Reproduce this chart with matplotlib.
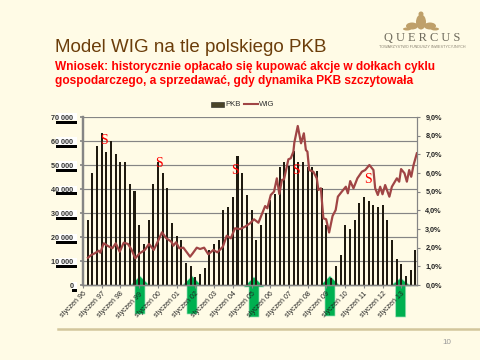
import matplotlib
matplotlib.use("Agg")
import matplotlib.pyplot as plt
from matplotlib.patches import Polygon, Rectangle, Ellipse
from matplotlib.lines import Line2D

plt.rcParams["font.family"] = ["Liberation Sans", "DejaVu Sans"]

BG = "#FFFBE6"
GRID = "#858585"
BAR = "#1F1A10"
LINE = "#A04545"
GREEN = "#00B050"
BROWN = "#6B3D0A"

# quarterly GDP growth, % (first bar is Q2 1996)
pkb = [3.5, 6.0, 7.44, 8.12, 7.12, 7.7, 7.0, 6.6, 6.6, 5.4, 5.03, 3.2, 2.2, 3.5, 5.4, 6.6, 6.0, 5.2, 3.3, 2.6,
       2.4, 1.17, 1.0, 0.45, 0.6, 0.9, 1.9, 2.2, 2.4, 4.0, 4.2, 4.7, 6.9, 6.0, 4.8, 4.0, 2.4, 3.2, 3.84, 4.55,
       4.9, 6.3, 6.6, 6.37, 7.2, 6.6, 6.6, 6.3, 6.3, 6.1, 5.2, 3.2, 0.4, 1.0, 1.6, 3.2, 3.0, 3.5, 4.4, 4.7,
       4.5, 4.27, 4.2, 4.27, 3.5, 2.4, 1.4, 1.1, 0.5, 0.8, 1.9]
pkb_months = [3 * (i + 1) for i in range(len(pkb))]

# WIG index, months since January 1996
wig_months = [3.2, 5.3, 7.5, 10.1, 11.1, 13.3, 16, 18.8, 21, 23.5, 26.1, 28.8, 31, 33.5, 36.3, 39.6, 42.3, 45.3,
              47.4, 50.6, 53.4, 56.6, 57.9, 59.6, 61.7, 64.3, 68.6, 70.3, 72.9, 75, 77.6, 80.3, 83.5, 86.1, 89.6,
              92.1, 94.7, 97.4, 100.6, 103.8, 107, 109.6, 112.4, 116.7, 118.1, 120.3, 122.4, 124.2, 125.8, 127.4,
              128.8, 131.6, 133.1, 134.8, 135.4, 137.6, 139.7, 141.5, 142.8, 143.8, 144.9, 147.6, 149.8, 150.8,
              152.4, 154, 155.8, 157.7, 159.9, 161.9, 163.3, 165.8, 168.4, 169.7, 171.2, 173.3, 175.8, 178.7,
              180.8, 183.5, 186.1, 187.2, 188.9, 190.4, 191.9, 193.6, 196.3, 197.9, 201.1, 202.6, 203.8, 206,
              207.5, 209, 210.3, 211.8, 213.9]
wig = [11375, 12500, 13200, 14300, 13450, 17375, 16250, 15300, 17375, 13875, 17625, 17100, 14875, 11125, 13200,
       14600, 17100, 14600, 17375, 21950, 19450, 18050, 16375, 17800, 15300, 15550, 11800, 13200, 15550, 15000,
       15550, 12800, 14600, 13600, 15950, 20550, 19450, 23625, 23300, 24300, 25700, 27375, 25950, 32900, 31950,
       37500, 38900, 44450, 37900, 43750, 44050, 52375, 52800, 55550, 59300, 66250, 59050, 63200, 56250, 55550,
       47900, 47200, 44450, 39600, 40300, 27800, 27375, 21875, 28750, 31250, 36800, 38875, 40950, 38200, 43300,
       40300, 44450, 47200, 47900, 50000, 47900, 40300, 37500, 40950, 37800, 41650, 36800, 40950, 44450, 43050,
       48300, 46550, 43050, 47900, 45100, 50000, 54875]

year_labels = ["styczeń %02d" % (y % 100) for y in range(1996, 2014)]
left_ticks = [0, 10000, 20000, 30000, 40000, 50000, 60000, 70000]
left_labels = ["0", "10 000", "20 000", "30 000", "40 000", "50 000", "60 000", "70 000"]
right_ticks = [0, 1, 2, 3, 4, 5, 6, 7, 8, 9]
right_labels = ["%d,0%%" % v for v in right_ticks]

# sell signals
s_months = [13.5, 48.6, 97.4, 136.5, 182.7]
s_values = [60100, 50600, 47600, 47600, 44100]

# buy arrows, pixels: centre x, tip y, head base y, half head width, bottom y
arrows = [(140, 276, 285, 9, 314), (192, 276, 285, 9, 314), (254, 277, 287, 10, 317),
          (330, 276, 286, 10, 316), (400.7, 278, 286, 10, 317)]

W, H = 480, 360
fig = plt.figure(figsize=(W / 100, H / 100), dpi=100, facecolor=BG)


def px(x, y):
    return x / W, 1 - y / H


# ─── Axes ─────────────────────────────────────────────────────────────────────

ax2 = fig.add_axes([83 / W, 1 - 285 / H, (417 - 83) / W, (285 - 117) / H])
ax = ax2.twinx()
ax.yaxis.tick_left()
ax2.yaxis.tick_right()
ax.set_zorder(2)
ax2.set_zorder(1)
ax.patch.set_visible(False)
ax2.patch.set_visible(False)

ax2.bar(pkb_months, pkb, width=1.3, color=BAR, linewidth=0, zorder=3)
ax2.set_ylim(0, 9)
ax2.set_xlim(0, 214)
ax2.set_yticks(right_ticks)
ax2.set_yticklabels(right_labels, fontsize=5.2, fontweight="bold", color="#222222")
ax2.yaxis.remove_overlapping_locs = False
ax2.set_yticks([v * 9 / 70000 for v in left_ticks[1:]], minor=True)
ax2.grid(True, which="minor", axis="y", color=GRID, linewidth=0.85, zorder=1)
ax2.tick_params(axis="y", which="minor", length=0)
ax2.tick_params(axis="y", which="major", length=2, width=0.8, color=GRID, pad=4)
ax2.set_xticks(range(0, 205, 12))
ax2.set_xticklabels(year_labels, rotation=45, ha="right", rotation_mode="anchor", fontsize=5, color="#222222")
ax2.tick_params(axis="x", length=2, width=0.8, color=GRID, pad=2)

ax.plot(wig_months, wig, color=LINE, linewidth=1.6, solid_joinstyle="round", zorder=4)
ax.set_ylim(0, 70000)
ax.set_yticks(left_ticks)
ax.set_yticklabels(left_labels, fontsize=5.2, fontweight="bold", color="#333333")
ax.yaxis.set_label_position("left")
ax.tick_params(axis="y", length=2, width=1.2, color=GRID, pad=5)

for a in (ax, ax2):
    a.spines["top"].set_visible(False)
    a.spines["left"].set_color(GRID)
    a.spines["left"].set_linewidth(1.6)
    a.spines["right"].set_color(GRID)
    a.spines["bottom"].set_color(GRID)
    a.spines["bottom"].set_linewidth(1.0)

for m, v in zip(s_months, s_values):
    ax.text(m, v, "S", color="red", fontsize=10, ha="center", va="center", family="Liberation Serif", zorder=5)

# ─── Left label shadows and green arrows ──────────────────────────────────────

for v, lab in zip(left_ticks, left_labels):
    y = 285 - v / 10000 * 24
    x0 = 56 if v else 72
    x1 = 77
    fig.add_artist(Rectangle(px(x0, y + 6.5), (x1 - x0) / W, 3 / H, color="black", linewidth=0, zorder=-0.5))
    fig.add_artist(Rectangle(px(x0, y + 3.5), (x1 - x0) / W, 7 / H, color="white", linewidth=0, zorder=-0.6))

for cx, tip, base, hw, bot in arrows:
    pts = [(cx, tip), (cx + hw, base), (cx + 5, base), (cx + 5, bot), (cx - 5, bot), (cx - 5, base), (cx - hw, base)]
    fig.add_artist(Polygon([px(*p) for p in pts], closed=True, facecolor=GREEN, edgecolor="#9BE0B8",
                           linewidth=0.5, zorder=-1))

# ─── Legend ───────────────────────────────────────────────────────────────────

fig.add_artist(Rectangle(px(211, 106.5), 13 / W, 5 / H, facecolor="#4A4428", edgecolor="#222222", linewidth=0.4))
fig.text(*px(225, 104), "PKB", fontsize=5.6, va="center", ha="left", color="#333333")
fig.add_artist(Line2D([244 / W, 258 / W], [1 - 104 / H] * 2, color=LINE, linewidth=1.5))
fig.text(*px(259, 104), "WIG", fontsize=5.6, va="center", ha="left", color="#333333")

# ─── Slide texts ──────────────────────────────────────────────────────────────

fig.text(*px(55, 48), "Model WIG na tle polskiego PKB", fontsize=13.5, color=BROWN, va="center", ha="left")
fig.text(*px(55, 67), "Wniosek: historycznie opłacało się kupować akcje w dołkach cyklu",
         fontsize=8.6, fontweight="bold", color="red", va="center", ha="left")
fig.text(*px(55, 81), "gospodarczego, a sprzedawać, gdy dynamika PKB szczytowała",
         fontsize=8.6, fontweight="bold", color="red", va="center", ha="left")

fig.add_artist(Line2D([58 / W, 1], [1 - 328.7 / H] * 2, color="#D3C69C", linewidth=1.8))
fig.text(*px(447, 342), "10", fontsize=5.8, color="#999999", ha="center", va="center")

# logo
fig.text(*px(422, 38), "Q U E R C U S", fontsize=8.9, color="#6E6A5C", family="Liberation Serif",
         ha="center", va="center")
fig.text(*px(422, 47), "TOWARZYSTWO FUNDUSZY INWESTYCYJNYCH", fontsize=2.7, color="#888070",
         ha="center", va="center")
for dx, dy, w, h in [(0, 0, 10, 15), (-9, 4, 12, 7), (9, 4, 12, 7), (-14, 7, 8, 3), (14, 7, 8, 3), (0, -8, 5, 5)]:
    cx, cy = px(421 + dx, 22 + dy)
    fig.add_artist(Ellipse((cx, cy), w / W, h / H, facecolor="#BFA06A", edgecolor="none", zorder=1))

fig.savefig("out.png", dpi=100, facecolor=BG)
